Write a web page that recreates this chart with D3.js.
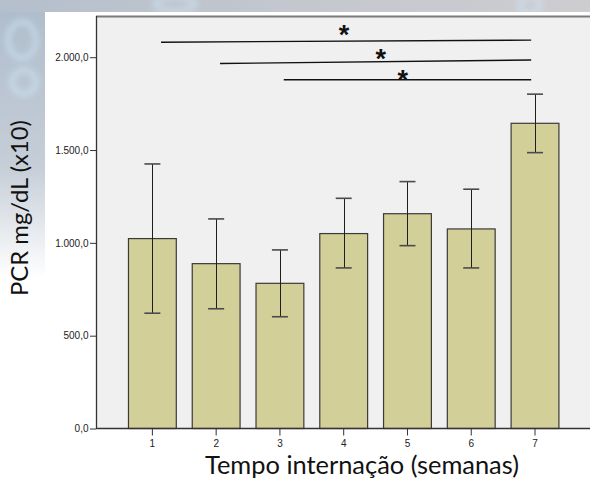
<!DOCTYPE html>
<html><head><meta charset="utf-8">
<script src="https://cdn.jsdelivr.net/npm/d3@7"></script>
<style>body{margin:0;background:#fff}svg{display:block}</style>
</head><body><div id="chart"></div>
<script>
// ---- data ----
const weeks = [1, 2, 3, 4, 5, 6, 7];
const means = [1023, 888, 782, 1050, 1157, 1075, 1644];
const errLow = [621, 645, 602, 865, 985, 865, 1486];
const errHigh = [1425, 1129, 962, 1240, 1330, 1289, 1801];
const yTicks = [0, 500, 1000, 1500, 2000];
// significance annotations (x in week units, y in data units)
const sigFrom = [1.135, 2.06, 3.06];
const sigTo = [6.94, 6.94, 6.94];
const sigYFrom = [2081, 1966, 1879];
const sigYTo = [2092, 1985, 1879];
const starX = [4.005, 4.58, 4.925];
const starY = [2150, 2022, 1908];
const xTitle = "Tempo internação (semanas)";
const yTitle = "PCR mg/dL (x10)";

// ---- layout ----
const W = 590, H = 480;
const plot = {left: 96, top: 16, right: 592, bottom: 428.5};

const svg = d3.select("#chart").append("svg").attr("width", W).attr("height", H);
const defs = svg.append("defs");
const lg = defs.append("linearGradient").attr("id", "lg").attr("x1", 0).attr("y1", 0).attr("x2", 0).attr("y2", 1);
lg.append("stop").attr("offset", "0").attr("stop-color", "#aebccb");
lg.append("stop").attr("offset", "0.35").attr("stop-color", "#c6ced8");
lg.append("stop").attr("offset", "0.58").attr("stop-color", "#ffffff");
lg.append("stop").attr("offset", "1").attr("stop-color", "#ffffff");
const tg = defs.append("linearGradient").attr("id", "tg").attr("x1", 0).attr("y1", 0).attr("x2", 1).attr("y2", 0);
tg.append("stop").attr("offset", "0").attr("stop-color", "#b4bfcc");
tg.append("stop").attr("offset", "0.5").attr("stop-color", "#c4c7ce");
tg.append("stop").attr("offset", "1").attr("stop-color", "#cdcdd0");
defs.append("filter").attr("id", "blur").append("feGaussianBlur").attr("stdDeviation", 3);

// background image imitation
svg.append("rect").attr("width", W).attr("height", H).attr("fill", "url(#lg)");
svg.append("rect").attr("width", W).attr("height", 12).attr("fill", "url(#tg)");
const blobs = svg.append("g").attr("filter", "url(#blur)").attr("fill", "none").attr("stroke", "#cfe6f4").attr("stroke-width", 4).attr("opacity", 0.8);
blobs.append("ellipse").attr("cx", 22).attr("cy", 40).attr("rx", 14).attr("ry", 18);
blobs.append("ellipse").attr("cx", 24).attr("cy", 82).attr("rx", 12).attr("ry", 12);
blobs.append("ellipse").attr("cx", 175).attr("cy", 4).attr("rx", 20).attr("ry", 7);
blobs.append("ellipse").attr("cx", 530).attr("cy", 5).attr("rx", 10).attr("ry", 9);
svg.append("rect").attr("x", 45).attr("y", 12).attr("width", W - 45).attr("height", H - 12).attr("fill", "#ffffff");

// scales
const y = d3.scaleLinear().domain([0, 2222]).range([plot.bottom, plot.top]);
const x = d3.scaleBand().domain(weeks).range([120.5, 566.9]).paddingInner(0.25).paddingOuter(0.125);
const xc = d => x(d) + x.bandwidth() / 2;
const xLin = d3.scaleLinear().domain([1, 7]).range([xc(1), xc(7)]);

// plot area
svg.append("rect").attr("x", plot.left).attr("y", plot.top)
  .attr("width", plot.right - plot.left).attr("height", plot.bottom - plot.top)
  .attr("fill", "#f0f0f0");
svg.append("line").attr("x1", plot.left).attr("x2", plot.right).attr("y1", plot.top + 0.5).attr("y2", plot.top + 0.5)
  .attr("stroke", "#7a7a7a").attr("stroke-width", 2);

// bars
const data = weeks.map((w, i) => ({w, m: means[i], lo: errLow[i], hi: errHigh[i]}));
svg.append("g").selectAll("rect").data(data).join("rect")
  .attr("x", d => x(d.w)).attr("y", d => y(d.m))
  .attr("width", x.bandwidth()).attr("height", d => y(0) - y(d.m))
  .attr("fill", "#d3cf98").attr("stroke", "#3a3a3a").attr("stroke-width", 1.2);

// error bars
const eb = svg.append("g").attr("stroke", "#1e1e1e").attr("stroke-width", 1);
eb.selectAll("line.v").data(data).join("line").attr("class", "v")
  .attr("x1", d => Math.round(xc(d.w)) + 0.5).attr("x2", d => Math.round(xc(d.w)) + 0.5)
  .attr("y1", d => y(d.lo)).attr("y2", d => y(d.hi));
eb.selectAll("line.t").data(data).join("line").attr("class", "t")
  .attr("x1", d => xc(d.w) - 8).attr("x2", d => xc(d.w) + 8)
  .attr("y1", d => y(d.hi)).attr("y2", d => y(d.hi)).attr("stroke", "#4a4a4a").attr("stroke-width", 1.6);
eb.selectAll("line.b").data(data).join("line").attr("class", "b")
  .attr("x1", d => xc(d.w) - 8).attr("x2", d => xc(d.w) + 8)
  .attr("y1", d => y(d.lo)).attr("y2", d => y(d.lo)).attr("stroke", "#4a4a4a").attr("stroke-width", 1.6);

// significance lines
const sig = sigFrom.map((f, i) => ({f, t: sigTo[i], y0: sigYFrom[i], y1: sigYTo[i], sx: starX[i], sy: starY[i]}));
svg.append("g").selectAll("line").data(sig).join("line")
  .attr("x1", d => xLin(d.f)).attr("x2", d => xLin(d.t))
  .attr("y1", d => y(d.y0)).attr("y2", d => y(d.y1))
  .attr("stroke", "#111").attr("stroke-width", 1.4);
svg.append("g").selectAll("text").data(sig).join("text")
  .attr("x", d => xLin(d.sx)).attr("y", d => y(d.sy) + 15)
  .attr("text-anchor", "middle")
  .style("font", "bold 27px 'Liberation Sans', Arial, sans-serif").attr("fill", "#111")
  .text("*");

// axes
const fmt = d3.formatLocale({decimal: ",", thousands: ".", grouping: [3], currency: ["", ""]}).format(",.1f");
const ya = svg.append("g").attr("transform", `translate(${plot.left},0)`)
  .call(d3.axisLeft(y).tickValues(yTicks).tickSize(6).tickPadding(1.5).tickFormat(fmt));
ya.select(".domain").remove();
ya.selectAll("line").attr("stroke", "#333");
ya.selectAll("text").style("font", "10px 'Liberation Sans', Arial, sans-serif").attr("fill", "#222");

const xa = svg.append("g").attr("transform", `translate(0,${plot.bottom})`)
  .call(d3.axisBottom(x).tickSize(7).tickPadding(4));
xa.select(".domain").remove();
xa.selectAll("line").attr("stroke", "#333");
xa.selectAll("text").style("font", "10px 'Liberation Sans', Arial, sans-serif").attr("fill", "#222");

svg.append("line").attr("x1", plot.left + 0.5).attr("x2", plot.left + 0.5).attr("y1", plot.top).attr("y2", plot.bottom)
  .attr("stroke", "#333").attr("stroke-width", 1.3);
svg.append("line").attr("x1", plot.left).attr("x2", plot.right).attr("y1", plot.bottom).attr("y2", plot.bottom)
  .attr("stroke", "#333").attr("stroke-width", 1.5);

// titles, sized to the reference widths
function fit(sel, target) {
  let fs = 20;
  sel.style("font-size", fs + "px");
  const w = sel.node().getComputedTextLength();
  sel.style("font-size", (fs * target / w) + "px");
}
const xt = svg.append("text").attr("x", 362).attr("y", 474).attr("text-anchor", "middle")
  .style("font-family", "Lato, 'Open Sans', sans-serif").attr("fill", "#111").text(xTitle);
fit(xt, 314);
const yt = svg.append("text").attr("transform", "translate(28,208) rotate(-90)").attr("text-anchor", "middle")
  .style("font-family", "Lato, 'Open Sans', sans-serif").attr("fill", "#111").text(yTitle);
fit(yt, 176);
</script>
</body></html>
